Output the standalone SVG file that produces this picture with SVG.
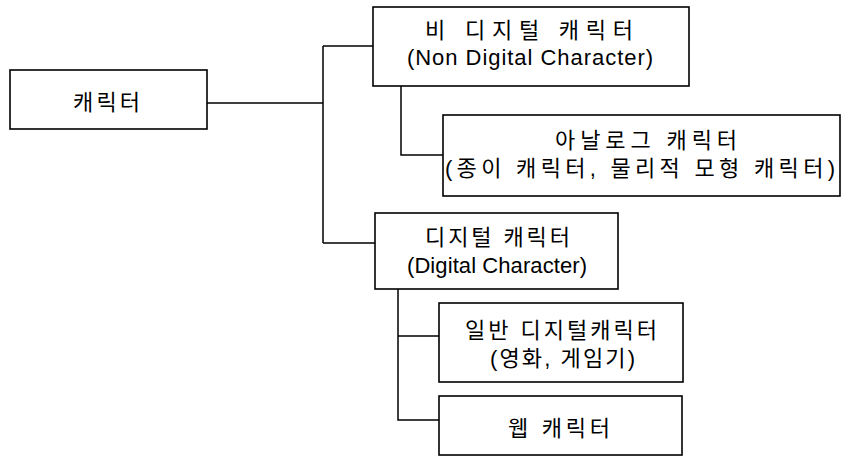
<svg xmlns="http://www.w3.org/2000/svg" width="841" height="456" viewBox="0 0 841 456">
<style>
.box{fill:#fff;stroke:#000;stroke-width:1.6}
.ln{fill:none;stroke:#000;stroke-width:1.5}
text{font-family:"Liberation Sans","Noto Sans CJK KR",sans-serif;font-size:22px;fill:#000}
.ko{font-size:22px}
</style>
<rect width="841" height="456" fill="#fff"/>
<g id="connectors">
<path class="ln" d="M207,103 H323 M323,46 V243 M323,46 H373 M323,243 H375"/>
<path class="ln" d="M401,86 V155 H443"/>
<path class="ln" d="M398,289 V420 H439 M398,336 H439"/>
</g>
<g id="node-root">
<rect class="box" x="10" y="70" width="197" height="59"/>
<text class="ko" x="73" y="110" textLength="67" lengthAdjust="spacing">캐릭터</text>
</g>
<g id="node-nondigital">
<rect class="box" x="373" y="7" width="316" height="79"/>
<text class="ko" x="425" y="38" textLength="208" lengthAdjust="spacing">비 디지털 캐릭터</text>
<text x="407" y="65" textLength="246" lengthAdjust="spacing">(Non Digital Character)</text>
</g>
<g id="node-analog">
<rect class="box" x="443" y="115" width="397" height="81"/>
<text class="ko" x="555" y="148" textLength="182" lengthAdjust="spacing">아날로그 캐릭터</text>
<text class="ko" x="445" y="176" textLength="390" lengthAdjust="spacing">(종이 캐릭터, 물리적 모형 캐릭터)</text>
</g>
<g id="node-digital">
<rect class="box" x="375" y="213" width="243" height="76"/>
<text class="ko" x="425" y="245" textLength="145" lengthAdjust="spacing">디지털 캐릭터</text>
<text x="407" y="273" textLength="180" lengthAdjust="spacing">(Digital Character)</text>
</g>
<g id="node-general">
<rect class="box" x="439" y="303" width="244" height="79"/>
<text class="ko" x="465" y="338" textLength="192" lengthAdjust="spacing">일반 디지털캐릭터</text>
<text class="ko" x="490" y="366" textLength="145" lengthAdjust="spacing">(영화, 게임기)</text>
</g>
<g id="node-web">
<rect class="box" x="439" y="396" width="243" height="59"/>
<text class="ko" x="508" y="436" textLength="102" lengthAdjust="spacing">웹 캐릭터</text>
</g>
</svg>
